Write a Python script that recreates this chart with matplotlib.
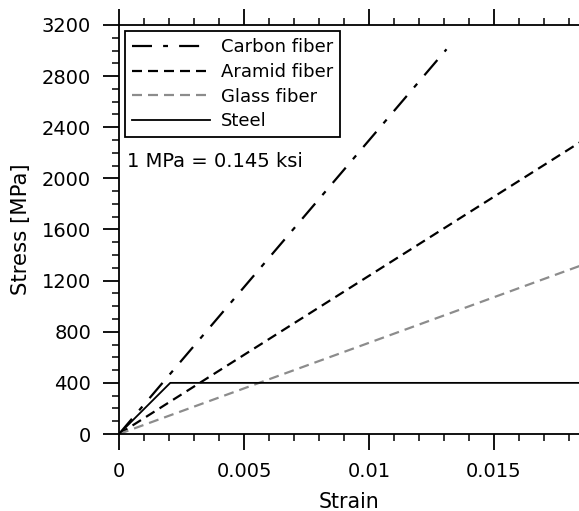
import matplotlib
matplotlib.use("Agg")
import matplotlib.pyplot as plt
from matplotlib.ticker import MultipleLocator, FuncFormatter

plt.rcParams['font.family'] = ['DejaVu Sans']

# data
carbon_strain = [0.0, 0.0131]
carbon_stress = [0.0, 3010.0]
aramid_strain = [0.0, 0.0185]
aramid_stress = [0.0, 2290.0]
glass_strain = [0.0, 0.0185]
glass_stress = [0.0, 1320.0]
steel_strain = [0.0, 0.00205, 0.0185]
steel_stress = [0.0, 400.0, 400.0]

fig = plt.figure(figsize=(5.79, 5.11), dpi=100)
ax = fig.add_axes([119/579, 77/511, 460/579, (434-25)/511])

ax.plot(carbon_strain, carbon_stress, color='black', lw=1.6,
        dashes=(9, 5, 2.2, 5), label='Carbon fiber')
ax.plot(aramid_strain, aramid_stress, color='black', lw=1.6,
        dashes=(4.5, 2.7), label='Aramid fiber')
ax.plot(glass_strain, glass_stress, color='#8c8c8c', lw=1.6,
        dashes=(4.5, 2.7), label='Glass fiber')
ax.plot(steel_strain, steel_stress, color='black', lw=1.3, label='Steel')

ax.set_xlim(0, 0.0184)
ax.set_ylim(0, 3200)

ax.spines['right'].set_visible(False)
for s in ['left', 'bottom', 'top']:
    ax.spines[s].set_linewidth(1.3)

ax.xaxis.set_major_locator(MultipleLocator(0.005))
ax.xaxis.set_minor_locator(MultipleLocator(0.001))
ax.yaxis.set_major_locator(MultipleLocator(400))
ax.yaxis.set_minor_locator(MultipleLocator(100))
ax.xaxis.set_major_formatter(FuncFormatter(lambda v, p: '0' if abs(v) < 1e-12 else ('%g' % v)))

ax.tick_params(axis='x', which='both', top=True, bottom=True, labeltop=False, direction='out')
ax.tick_params(axis='y', which='both', left=True, right=False, direction='out')
ax.tick_params(which='major', length=11.5, width=1.3, labelsize=14)
ax.tick_params(which='minor', length=4.8, width=1.1)
ax.tick_params(axis='x', which='major', pad=8.5)
ax.tick_params(axis='y', which='major', pad=8.5)

ax.set_xlabel('Strain', fontsize=14.8, labelpad=8)
ax.set_ylabel('Stress [MPa]', fontsize=15.3, labelpad=8)

leg = ax.legend(loc='upper left', bbox_to_anchor=(0.0, 1.0), fontsize=13,
                handlelength=4.3, handletextpad=0.6, borderpad=0.4,
                labelspacing=0.37, fancybox=False, framealpha=1,
                edgecolor='black', borderaxespad=0.33)
leg.get_frame().set_linewidth(1.3)

ax.text(0.00032, 2130, '1 MPa = 0.145 ksi', fontsize=14, va='center', ha='left')

fig.savefig('out.png', dpi=100)
